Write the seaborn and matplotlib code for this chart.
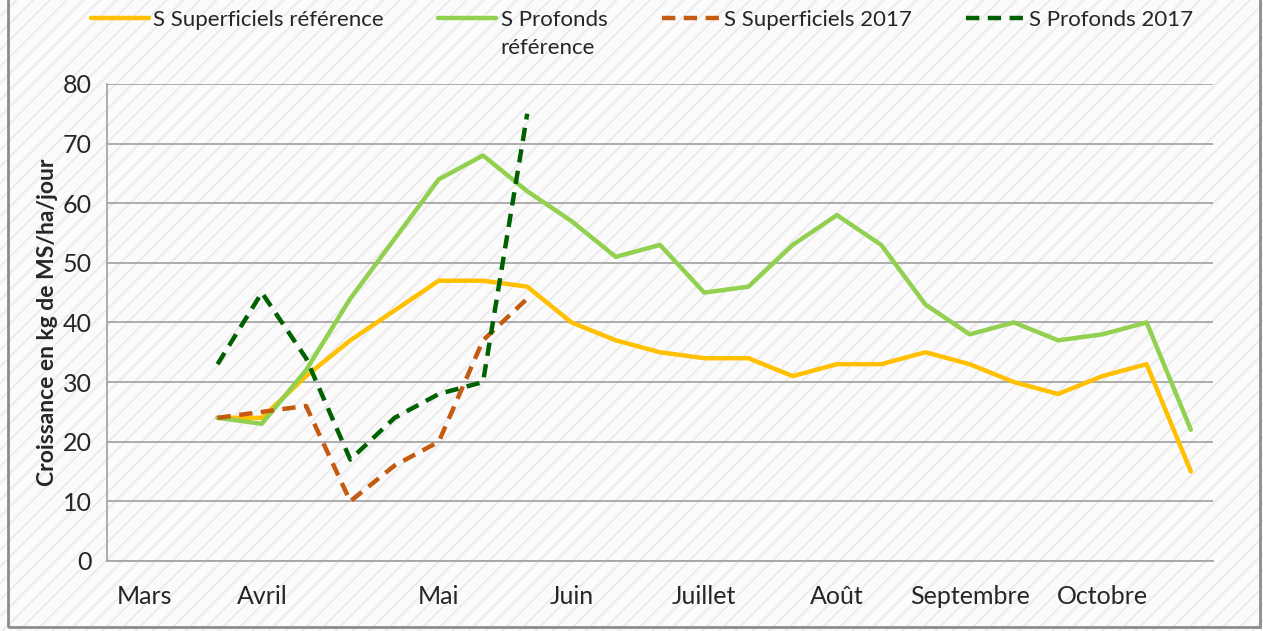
import numpy as np
import matplotlib
matplotlib.use('Agg')
import matplotlib.pyplot as plt
import matplotlib.transforms as mtransforms
import seaborn as sns
from matplotlib.patches import Rectangle
from matplotlib.lines import Line2D

nan = np.nan

# categories (periodes de 10 jours), only some carry a month label
periodes = ['Mars', '', '', 'Avril', '', '', '', 'Mai', '', '', 'Juin', '', '',
            'Juillet', '', '', 'Août', '', '', 'Septembre', '', '', 'Octobre', '', '']

sup_ref = [nan, nan, 24, 24, 31, 37, 42, 47, 47, 46, 40, 37, 35, 34, 34, 31, 33,
           33, 35, 33, 30, 28, 31, 33, 15]
prof_ref = [nan, nan, 24, 23, 32, 44, 54, 64, 68, 62, 57, 51, 53, 45, 46, 53, 58,
            53, 43, 38, 40, 37, 38, 40, 22]
sup_2017 = [nan, nan, 24, 25, 26, 10, 16, 20, 37, 44] + [nan] * 15
prof_2017 = [nan, nan, 33, 45, 34, 17, 24, 28, 30, 75] + [nan] * 15

noms = ['S Superficiels référence', 'S Profonds', 'S Superficiels 2017', 'S Profonds 2017']
series = [sup_ref, prof_ref, sup_2017, prof_2017]
couleurs = ['#FFC000', '#92D050', '#C55A11', '#006100']
pointilles = [False, False, True, True]

sns.set_style('white')
plt.rcParams['font.family'] = ['Lato', 'DejaVu Sans']
plt.rcParams['hatch.linewidth'] = 1.4

fig = plt.figure(figsize=(12.63, 6.31), dpi=100)
fig.patch.set_facecolor('#fbfbfb')
fig.add_artist(Rectangle((0, 0), 1, 1, transform=fig.transFigure, facecolor='none',
                         edgecolor='#ebebeb', hatch='//', lw=0, zorder=-5))
fig.add_artist(Rectangle((8 / 1263, 4 / 631), 1252 / 1263, 1.0, transform=fig.transFigure,
                         fill=False, edgecolor='#8c8c8c', lw=2))

ax = fig.add_axes([0.0847, 0.111, 0.8757, 0.756])
ax.set_facecolor('none')

x = np.arange(len(periodes))
handles = []
for nom, vals, c, dash in zip(noms, series, couleurs, pointilles):
    vals = np.array(vals, dtype=float)
    ok = ~np.isnan(vals)
    ls = (0, (3, 1.9)) if dash else '-'
    sns.lineplot(x=x[ok], y=vals[ok], ax=ax, color=c, lw=3.2, linestyle=ls)
    handles.append(Line2D([], [], color=c, lw=3.2, linestyle=ls))

ax.set_xlim(-0.5, len(periodes) - 0.5)
ax.set_ylim(0, 80)
ax.set_yticks(range(0, 81, 10))
ax.set_xticks(x)
ax.set_xticklabels(periodes)
ax.set_xticks(np.arange(-0.5, len(periodes), 1), minor=True)
ax.tick_params(axis='x', which='major', length=0, labelsize=18, pad=17, labelcolor='#262626')
ax.tick_params(axis='x', which='minor', length=7, color='#a6a6a6', width=1.3)
ax.tick_params(axis='y', length=6, color='#a6a6a6', width=1.3, labelsize=18,
               labelcolor='#262626', pad=5)

# first label sits inside the axis start, like the original
premier = ax.get_xticklabels()[0]
premier.set_transform(premier.get_transform() +
                      mtransforms.ScaledTranslation(0.15, 0, fig.dpi_scale_trans))

ax.yaxis.grid(True, color='#a6a6a6', lw=1.3)
ax.set_axisbelow(True)
for s in ['top', 'right']:
    ax.spines[s].set_visible(False)
for s in ['left', 'bottom']:
    ax.spines[s].set_color('#a6a6a6')
    ax.spines[s].set_linewidth(1.3)

ax.set_xlabel('')
ax.set_ylabel('Croissance en kg de MS/ha/jour', fontsize=16.5, fontweight='bold', labelpad=3)

leg = ax.legend(handles, noms, loc='upper left', bbox_to_anchor=(0.058, 1.012),
                bbox_transform=fig.transFigure, ncol=4, frameon=False, fontsize=16,
                handlelength=2.6, handletextpad=0.2, columnspacing=2.45, borderpad=0.3)

# second line of the 'S Profonds' label
fig.canvas.draw()
bb = leg.get_texts()[1].get_window_extent().transformed(fig.transFigure.inverted())
fig.text(bb.x0, bb.y0 - 0.012, 'référence', fontsize=16, va='top', ha='left')

fig.savefig('out.png', dpi=100, facecolor=fig.get_facecolor())
